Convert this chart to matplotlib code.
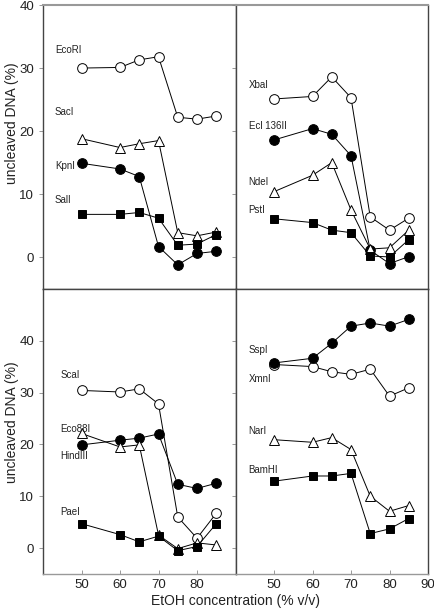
import matplotlib.pyplot as plt

plt.rcParams['font.family'] = ['Liberation Sans', 'DejaVu Sans']

etoh = [50, 60, 65, 70, 75, 80, 85]

# top left
ecori = [30.0, 30.1, 31.3, 31.8, 22.2, 21.9, 22.4]
saci = [18.8, 17.4, 18.0, 18.5, 3.9, 3.4, 4.0]
kpni = [14.9, 14.0, 12.8, 1.7, -1.2, 0.6, 0.95]
sali = [6.8, 6.8, 7.1, 6.2, 1.9, 2.1, 3.6]

# top right
xbai = [25.1, 25.5, 28.6, 25.3, 6.4, 4.3, 6.2]
ecl136 = [18.6, 20.4, 19.5, 16.1, 1.1, -1.0, 0.1]
ndei = [10.4, 13.0, 15.0, 7.5, 1.3, 1.5, 4.3]
psti = [6.1, 5.5, 4.3, 3.9, 0.2, 0.05, 2.8]

# bottom left
scai = [30.4, 30.1, 30.7, 27.8, 6.0, 1.9, 6.7]
eco88 = [19.9, 20.8, 21.2, 22.0, 12.3, 11.5, 12.5]
hindiii = [22.1, 19.5, 19.9, 2.5, -0.1, 1.0, 0.6]
paei = [4.7, 2.6, 1.2, 2.3, -0.5, 0.3, 4.7]

# bottom right
sspi = [35.7, 36.6, 39.5, 42.8, 43.4, 42.8, 44.1]
xmni = [35.4, 35.0, 34.0, 33.5, 34.5, 29.3, 30.9]
nari = [20.9, 20.4, 21.3, 19.0, 10.0, 7.1, 8.2]
bamhi = [12.9, 13.9, 13.9, 14.4, 2.8, 3.7, 5.7]

open_c = dict(marker='o', mfc='white', ms=7)
fill_c = dict(marker='o', mfc='black', ms=7)
open_t = dict(marker='^', mfc='white', ms=6.5)
fill_s = dict(marker='s', mfc='black', ms=5.4)

panels = [
    # (series, styles, labels, label y positions, ylim, label x)
    ([ecori, saci, kpni, sali], [open_c, open_t, fill_c, fill_s],
     ['EcoRI', 'SacI', 'KpnI', 'SalI'], [32.9, 23.1, 14.4, 9.1], (-5, 40), 43.1),
    ([xbai, ecl136, ndei, psti], [open_c, fill_c, open_t, fill_s],
     ['XbaI', 'Ecl 136II', 'NdeI', 'PstI'], [27.3, 20.8, 12.0, 7.5], (-5, 40), 43.4),
    ([scai, eco88, hindiii, paei], [open_c, fill_c, open_t, fill_s],
     ['ScaI', 'Eco88I', 'HindIII', 'PaeI'], [33.3, 23.0, 17.7, 6.9], (-5, 50), 44.6),
    ([xmni, sspi, nari, bamhi], [open_c, fill_c, open_t, fill_s],
     ['XmnI', 'SspI', 'NarI', 'BamHI'], [32.7, 38.2, 22.5, 15.1], (-5, 50), 43.4),
]

fig = plt.figure(figsize=(4.34, 6.16), dpi=100)
gs = fig.add_gridspec(2, 2, left=43/434, right=428/434, top=1-5/616, bottom=1-574/616,
                      wspace=0, hspace=0, height_ratios=[1, 1.005])

for i, (series, styles, labels, ly, ylim, lx) in enumerate(panels):
    ax = fig.add_subplot(gs[i // 2, i % 2])
    for ys, st in zip(series, styles):
        ax.plot(etoh, ys, color='black', lw=0.7, mec='black', mew=0.7, **st)
    for name, y in zip(labels, ly):
        ax.text(lx, y, name, fontsize=7, va='center', ha='left', color='#222222')
    ax.set_xlim(40, 90)
    ax.set_ylim(*ylim)
    ax.set_xticks([40, 50, 60, 70, 80, 90])
    ax.set_yticks([0, 10, 20, 30, 40])
    for s in ax.spines.values():
        s.set_color('#444444')
        s.set_linewidth(1.0)
    if i < 2:
        ax.spines['top'].set_color('#999999')
        ax.spines['top'].set_linewidth(1.5)
    ax.tick_params(length=3, width=0.6, color='#888888', labelsize=9.5, labelcolor='#222222')
    ax.tick_params(axis='x', direction='in' if i >= 2 else 'out')
    if i % 2 == 1:
        ax.tick_params(axis='y', labelleft=False)
    if i < 2:
        ax.tick_params(axis='x', labelbottom=False)
    elif i == 2:
        ax.set_xticklabels(['', '50', '60', '70', '80', ''])
    else:
        ax.set_xticklabels(['', '50', '60', '70', '80', '90'])
    if i >= 2:
        ax.spines['bottom'].set_color('#999999')
    if i % 2 == 0:
        ax.set_ylabel('uncleaved DNA (%)', fontsize=10, color='#222222')
        ax.yaxis.set_label_coords(-0.125, 0.585 if i == 0 else 0.533)

fig.text(235/434, 1-601/616, 'EtOH concentration (% v/v)', ha='center', va='center',
         fontsize=10, color='#222222')

fig.savefig('out.png', dpi=100)
